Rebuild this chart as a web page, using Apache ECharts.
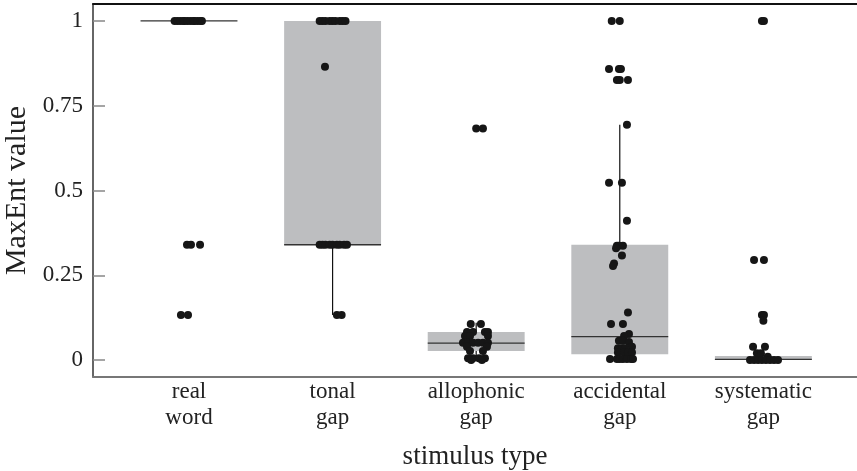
<!DOCTYPE html>
<html>
<head>
<meta charset="utf-8">
<script src="https://cdn.jsdelivr.net/npm/echarts@6/dist/echarts.min.js"></script>
<style>
  html, body { margin: 0; padding: 0; background: #fff; }
  #chart { width: 857px; height: 471px; }
</style>
</head>
<body>
<div id="chart"></div>
<script>
// stimulus categories (x positions 1..5)
const categories = ['real\nword', 'tonal\ngap', 'allophonic\ngap', 'accidental\ngap', 'systematic\ngap'];
const yTicks = [0, 0.25, 0.5, 0.75, 1];

// box statistics per category
const boxLo  = [1,    0.133, 0,     0,     0];
const boxQ1  = [1,    0.34,  0.027, 0.017, 0];
const boxMed = [1,    0.34,  0.05,  0.069, 0.002];
const boxQ3  = [1,    1,     0.083, 0.34,  0.012];
const boxHi  = [1,    1,     0.11,  0.694, 0.03];

// individual items: value and horizontal jitter (in category units)
const realValues = [1, 1, 1, 1, 1, 1, 1, 1, 1, 1, 1, 1, 0.34, 0.34, 0.34, 0.133, 0.133];
const realJitter = [-0.1, -0.08, -0.06, -0.04, -0.03, -0.01, 0.01, 0.03, 0.04, 0.06, 0.08, 0.09, -0.014, 0.014, 0.077, -0.056, -0.007];

const tonalValues = [1, 1, 1, 1, 1, 1, 1, 1, 1, 0.865, 0.34, 0.34, 0.34, 0.34, 0.34, 0.34, 0.34, 0.34, 0.34, 0.133, 0.133];
const tonalJitter = [-0.09, -0.07, -0.05, -0.02, 0, 0.02, 0.05, 0.07, 0.09, -0.053, -0.09, -0.07, -0.05, -0.02, 0, 0.03, 0.05, 0.08, 0.1, 0.03, 0.063];

const alloValues = [0.683, 0.683, 0.106, 0.106, 0.083, 0.083, 0.083, 0.083, 0.071, 0.071, 0.071,
  0.051, 0.051, 0.051, 0.051, 0.051, 0.051, 0.039, 0.039, 0.027, 0.027, 0.005, 0.005, 0.005, 0.005, 0, 0];
const alloJitter = [0, 0.047, -0.038, 0.033, -0.064, -0.022, 0.061, 0.082, -0.078, -0.043, 0.082,
  -0.092, -0.057, -0.022, 0.013, 0.047, 0.082, -0.064, 0.075, -0.043, 0.047, -0.057, -0.022, 0.019, 0.061, -0.035, 0.04];

const accValues = [1, 1, 0.858, 0.858, 0.858, 0.826, 0.826, 0.826, 0.694, 0.523, 0.523, 0.411,
  0.337, 0.337, 0.337, 0.33, 0.308, 0.285, 0.277, 0.14, 0.106, 0.106, 0.077, 0.071, 0.057, 0.057,
  0.053, 0.039, 0.035, 0.035, 0.035, 0.022, 0.022, 0.022, 0.022, 0.003, 0.003, 0.003, 0.003, 0.003, 0.003, 0.003];
const accJitter = [-0.056, 0, -0.075, -0.006, 0.008, -0.02, 0, 0.057, 0.05, -0.075, 0.015, 0.05,
  -0.02, -0.006, 0.022, -0.026, 0.015, -0.04, -0.047, 0.057, -0.061, 0.022, 0.064, 0.03, -0.006, 0.022,
  0.064, 0.085, -0.013, 0.015, 0.036, -0.013, 0.03, 0.057, 0.085, -0.068, -0.02, 0, 0.022, 0.05, 0.078, 0.092];

const sysValues = [1, 1, 0.295, 0.295, 0.133, 0.133, 0.116, 0.039, 0.039, 0.02, 0.02, 0.01, 0.01,
  0, 0, 0, 0, 0, 0, 0, 0];
const sysJitter = [-0.01, 0.004, -0.065, 0.004, -0.01, 0.004, 0, -0.072, 0.011, -0.045, -0.017, -0.03, 0.03,
  -0.093, -0.065, -0.037, -0.01, 0.018, 0.046, 0.074, 0.102];

const groupValues = [realValues, tonalValues, alloValues, accValues, sysValues];
const groupJitter = [realJitter, tonalJitter, alloJitter, accJitter, sysJitter];

const fontFamily = '"Liberation Serif", "DejaVu Serif", serif';
const textColor = '#222';
const boxWidth = 0.675;
const xMin = 0.3315, xMax = 5.652;

// build data for the series
const boxData = categories.map((c, i) => [i + 1, boxLo[i], boxQ1[i], boxMed[i], boxQ3[i], boxHi[i]]);
const pointData = [];
groupValues.forEach((vals, i) => {
  vals.forEach((v, j) => pointData.push([i + 1 + groupJitter[i][j], v]));
});

function renderBox(params, api) {
  const x = api.value(0);
  const lo = api.coord([x, api.value(1)]);
  const q1 = api.coord([x, api.value(2)]);
  const med = api.coord([x, api.value(3)]);
  const q3 = api.coord([x, api.value(4)]);
  const hi = api.coord([x, api.value(5)]);
  const half = api.size([boxWidth, 0])[0] / 2;
  const cx = q1[0];
  return {
    type: 'group',
    children: [
      { type: 'line', shape: { x1: cx, y1: q3[1], x2: cx, y2: hi[1] }, style: { stroke: '#111', lineWidth: 1.2 } },
      { type: 'line', shape: { x1: cx, y1: q1[1], x2: cx, y2: lo[1] }, style: { stroke: '#111', lineWidth: 1.2 } },
      { type: 'rect', shape: { x: cx - half, y: q3[1], width: half * 2, height: q1[1] - q3[1] }, style: { fill: '#bdbec0' } },
      { type: 'line', shape: { x1: cx - half, y1: med[1], x2: cx + half, y2: med[1] }, style: { stroke: '#333', lineWidth: 1.3 } }
    ]
  };
}

const chart = echarts.init(document.getElementById('chart'), null, { renderer: 'canvas' });

const option = {
  backgroundColor: '#fff',
  animation: false,
  grid: { left: 93, right: 0, top: 4, bottom: 94, containLabel: false, outerBoundsMode: 'none' },
  xAxis: [
    {
      type: 'value', min: xMin, max: xMax, position: 'bottom',
      splitLine: { show: false },
      axisLine: { show: true, onZero: false, lineStyle: { color: '#777', width: 2 } },
      axisTick: { show: false },
      axisLabel: {
        customValues: [1, 2, 3, 4, 5],
        formatter: v => categories[Math.round(v) - 1] || '',
        fontFamily: fontFamily, fontSize: 23, color: textColor,
        lineHeight: 26, margin: 2
      },
      name: 'stimulus type', nameLocation: 'middle', nameGap: 66,
      nameTextStyle: { fontFamily: fontFamily, fontSize: 27, color: textColor }
    },
    {
      type: 'value', min: xMin, max: xMax, position: 'top',
      splitLine: { show: false },
      axisLine: { show: true, onZero: false, lineStyle: { color: '#111', width: 2 } },
      axisTick: { show: false },
      axisLabel: { show: false }
    }
  ],
  yAxis: {
    type: 'value', min: -0.05, max: 1.05,
    splitLine: { show: false },
    axisLine: { show: true, onZero: false, lineStyle: { color: '#333', width: 1.5 } },
    axisTick: { show: true, inside: true, length: 12, customValues: yTicks, lineStyle: { color: '#888', width: 1.5 } },
    axisLabel: {
      customValues: yTicks,
      formatter: v => String(Math.round(v * 100) / 100),
      fontFamily: fontFamily, fontSize: 23, color: textColor, margin: 10
    },
    name: 'MaxEnt value', nameLocation: 'middle', nameGap: 60, nameRotate: 90,
    nameTextStyle: { fontFamily: fontFamily, fontSize: 30, color: textColor }
  },
  series: [
    {
      type: 'custom', renderItem: renderBox, data: boxData, z: 1,
      encode: { x: 0, y: [1, 2, 3, 4, 5] }
    },
    {
      type: 'scatter', data: pointData, symbolSize: 8, z: 3,
      itemStyle: { color: '#161616', opacity: 1 }
    }
  ]
};

chart.setOption(option);
</script>
</body>
</html>
